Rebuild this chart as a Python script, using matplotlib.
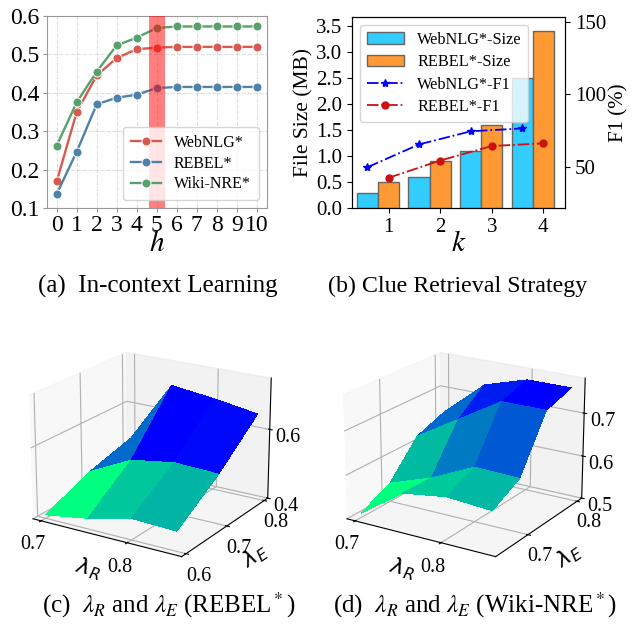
import matplotlib.pyplot as plt
import numpy as np

plt.rcParams['font.family'] = ['Liberation Serif', 'DejaVu Serif']
plt.rcParams['mathtext.fontset'] = 'stix'

# (a) in-context learning, F1 vs number of demonstrations h
h_vals = np.arange(0, 11)
webnlg_h = [0.17, 0.35, 0.445, 0.49, 0.513, 0.517, 0.519, 0.519, 0.519, 0.519, 0.519]
rebel_h = [0.137, 0.247, 0.37, 0.387, 0.395, 0.412, 0.415, 0.415, 0.415, 0.415, 0.415]
wiki_h = [0.263, 0.375, 0.455, 0.523, 0.543, 0.568, 0.572, 0.572, 0.572, 0.572, 0.572]

# (b) clue retrieval strategy
k_vals = np.array([1, 2, 3, 4])
webnlg_size = [0.3, 0.6, 1.1, 2.5]
rebel_size = [0.5, 0.9, 1.6, 3.4]
webnlg_f1 = [49.8, 65.5, 74.5, 76.5]
rebel_f1 = [42.5, 54.4, 64.4, 66.2]

# (c) / (d) lambda_R x lambda_E grids
lam_r = [0.7, 0.75, 0.8, 0.85]
lam_e_rebel = [0.6, 0.7, 0.8]
z_rebel = [[0.41, 0.43, 0.46, 0.455],
           [0.465, 0.525, 0.545, 0.54],
           [0.5, 0.68, 0.665, 0.645]]
lam_e_wiki = [0.65, 0.7, 0.75, 0.8]
z_wiki = [[0.51, 0.58, 0.595, 0.588],
          [0.543, 0.578, 0.625, 0.622],
          [0.62, 0.68, 0.74, 0.74],
          [0.645, 0.73, 0.76, 0.76]]

fig = plt.figure(figsize=(6.33, 6.25), dpi=100)

# ---- (a)
ax = fig.add_axes([0.0738, 0.6667, 0.3476, 0.3082])
ax.plot(h_vals, webnlg_h, '-o', color='#d8594f', lw=1.7, ms=6.5, mec='white', mew=0.7, label='WebNLG*')
ax.plot(h_vals, rebel_h, '-o', color='#4f82aa', lw=1.7, ms=6.5, mec='white', mew=0.7, label='REBEL*')
ax.plot(h_vals, wiki_h, '-o', color='#5aa06e', lw=1.7, ms=6.5, mec='white', mew=0.7, label='Wiki-NRE*')
ax.axvspan(4.6, 5.4, color='red', alpha=0.5, lw=0, zorder=3)
ax.set_xlim(-0.5, 10.5)
ax.set_ylim(0.1, 0.6)
ax.set_xticks(h_vals)
ax.set_yticks([0.1, 0.2, 0.3, 0.4, 0.5, 0.6])
ax.tick_params(labelsize=17, length=3, color='#999999', pad=2)
ax.grid(True, linestyle='--', alpha=0.4)
for s in ax.spines.values():
  s.set_color('#999999')
ax.set_xlabel('$h$', fontsize=21, labelpad=-4)
ax.legend(loc='lower right', fontsize=11.5, labelspacing=0.3, borderpad=0.5, handlelength=1.9)

# ---- (b)
w = 0.41
ax1 = fig.add_axes([0.5561, 0.6667, 0.3365, 0.3061])
b1 = ax1.bar(k_vals - w, webnlg_size, width=w, color='#33ccff', edgecolor='#666666', lw=1, label='WebNLG*-Size')
b2 = ax1.bar(k_vals, rebel_size, width=w, color='#ff9933', edgecolor='#666666', lw=1, label='REBEL*-Size')
ax1.set_xlim(0.29, 4.42)
ax1.set_ylim(0, 3.67)
ax1.set_xticks(k_vals)
ax1.set_yticks(np.arange(0, 3.51, 0.5))
ax1.tick_params(labelsize=15)
ax1.set_ylabel('File Size (MB)', fontsize=15.5, labelpad=2)
ax1.set_xlabel('$k$', fontsize=21, labelpad=-4)
ax2 = ax1.twinx()
l1, = ax2.plot(k_vals - w, webnlg_f1, '-.', color='blue', marker='*', ms=6, lw=1.3, label='WebNLG*-F1')
l2, = ax2.plot(k_vals, rebel_f1, '-.', color='#cc1111', marker='o', ms=5, lw=1.3, label='REBEL*-F1')
ax2.set_ylim(21.5, 153.2)
ax2.set_yticks([50, 100, 150])
ax2.tick_params(labelsize=15)
ax2.set_ylabel('F1 (%)', fontsize=15, labelpad=2)
ax2.legend(handles=[b1, b2, l1, l2], loc='upper left', fontsize=11.7, labelspacing=0.4, handlelength=2.3)


# ---- (c), (d)
def surface(rect, lam_e, z, zlim, zticks, yticks):
  a3 = fig.add_axes(rect, projection='3d')
  X, Y = np.meshgrid(lam_r, lam_e)
  a3.plot_surface(X, Y, np.array(z), cmap='winter_r', linewidth=0, antialiased=False)
  a3.view_init(elev=20, azim=-58)
  a3.set_xlim(0.69, 0.86)
  a3.set_ylim(lam_e[0] - 0.01, lam_e[-1] + 0.01)
  a3.set_zlim(*zlim)
  a3.set_xticks([0.7, 0.8])
  a3.set_yticks(yticks)
  a3.set_zticks(zticks)
  a3.tick_params(labelsize=14.5, pad=0)
  a3.zaxis.set_ticks_position('upper')
  a3.set_xlabel(r'$\lambda_R$', fontsize=16, math_fontfamily='dejavusans', labelpad=-4)
  a3.set_ylabel(r'$\lambda_E$', fontsize=16, math_fontfamily='dejavusans', labelpad=-2)
  return a3


surface([-0.02, 0.062, 0.51, 0.43], lam_e_rebel, z_rebel, (0.4, 0.745), [0.4, 0.6], [0.6, 0.7, 0.8])
surface([0.476, 0.062, 0.51, 0.43], lam_e_wiki, z_wiki, (0.5, 0.78), [0.5, 0.6, 0.7], [0.7, 0.8])

cap = dict(fontsize=18, ha='center', va='center')
fig.text(0.249, 0.541, '(a)  In-context Learning', **cap)
fig.text(0.7227, 0.541, '(b) Clue Retrieval Strategy', fontsize=17.3, ha='center', va='center')
fig.text(0.266, 0.032, r'(c)  $\lambda_R$ and $\lambda_E$ (REBEL$^*$)', **cap)
fig.text(0.75, 0.032, r'(d)  $\lambda_R$ and $\lambda_E$ (Wiki-NRE$^*$)', **cap)

fig.savefig('out.png', dpi=100)
